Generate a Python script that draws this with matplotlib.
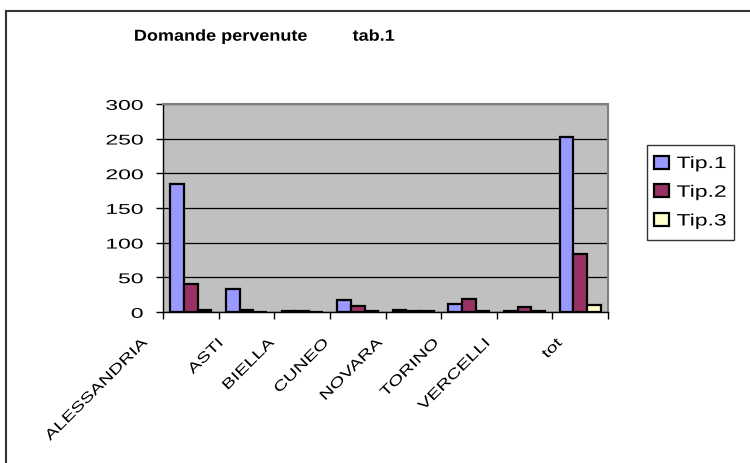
import numpy as np
import matplotlib
matplotlib.use("Agg")
import matplotlib.pyplot as plt
from matplotlib.lines import Line2D
from matplotlib.transforms import Affine2D, ScaledTranslation
from matplotlib.patheffects import AbstractPathEffect

plt.rcParams['font.family'] = ['Liberation Sans', 'DejaVu Sans']

# data
categories = ['ALESSANDRIA', 'ASTI', 'BIELLA', 'CUNEO', 'NOVARA', 'TORINO', 'VERCELLI', 'tot']
tip1 = [184, 33, 1, 17, 3, 11, 2, 253]
tip2 = [40, 3, 1, 9, 1, 19, 7, 83]
tip3 = [3, 0, 0, 2, 1, 1, 1, 10]
series_names = ['Tip.1', 'Tip.2', 'Tip.3']
colors = ['#9999FF', '#993366', '#FFFFCC']
yticks = [0, 50, 100, 150, 200, 250, 300]


class Squeeze(AbstractPathEffect):
    """squash glyphs vertically (about mid cap height) -> wide excel-like text"""

    def __init__(self, sy):
        super().__init__()
        self.sy = sy

    def draw_path(self, renderer, gc, tpath, affine, rgbFace=None):
        mid = 36.0  # text paths are in units of 100 per em
        t = Affine2D().translate(0, -mid).scale(1, self.sy).translate(0, mid) + affine
        renderer.draw_path(gc, tpath, t, rgbFace)


fig = plt.figure(figsize=(7.5, 4.63), dpi=100)
W, H = 750, 463
ax = fig.add_axes([163 / W, 1 - 312 / H, (608 - 163) / W, (312 - 104) / H])
ax.set_facecolor('#C0C0C0')

x = np.arange(len(categories))
width = 0.245
for k, (vals, name, c) in enumerate(zip([tip1, tip2, tip3], series_names, colors)):
    ax.bar(x + (k - 1) * width, vals, width, color=c, edgecolor='black',
           linewidth=1.6, label=name, zorder=3)

ax.set_xlim(-0.5, len(categories) - 0.5)
ax.set_ylim(0, 300)
ax.set_yticks(yticks)
ax.yaxis.grid(True, color='black', linewidth=0.9, zorder=1)
ax.set_axisbelow(True)

for s in ['top', 'right']:
    ax.spines[s].set_color('#808080')
    ax.spines[s].set_linewidth(1.5)
for s in ['left', 'bottom']:
    ax.spines[s].set_color('black')
    ax.spines[s].set_linewidth(1.0)

ax.tick_params(axis='y', direction='out', length=5, width=1, labelsize=16.5, pad=9)
for lab in ax.get_yticklabels():
    lab.set_path_effects([Squeeze(0.62)])

# category ticks at the boundaries, labels hung left of the groups
ax.set_xticks(np.arange(-0.5, len(categories)), minor=True)
ax.tick_params(axis='x', which='minor', direction='out', length=5, width=1)
ax.set_xticks(x)
ax.set_xticklabels(categories, rotation=45, ha='right', va='top',
                   rotation_mode='anchor', fontsize=14.2)
ax.tick_params(axis='x', which='major', length=0, pad=16)

fig.canvas.draw()
for lab in ax.get_xticklabels():
    lab.set_path_effects([Squeeze(0.72)])
    bw = lab.get_window_extent().width
    off = (8.7 + 0.311 * bw + 9) / 100.0
    lab.set_transform(lab.get_transform() + ScaledTranslation(-off, 0, fig.dpi_scale_trans))

title = fig.text(264 / W, 1 - 37 / H, 'Domande pervenute         tab.1', ha='center',
                 va='center', fontsize=13, fontweight='bold')
title.set_path_effects([Squeeze(0.88)])

leg = fig.legend(loc='upper left', bbox_to_anchor=(647 / W, 1 - 145 / H),
                 fontsize=16.5, frameon=True, fancybox=False, edgecolor='black',
                 handlelength=0.62, handleheight=0.5, handletextpad=0.35,
                 labelspacing=0.25, borderpad=0.32, borderaxespad=0)
leg.get_frame().set_linewidth(1.0)
for t in leg.get_texts():
    t.set_path_effects([Squeeze(0.72)])

# outer chart frame
fig.add_artist(Line2D([5.5 / W, 5.5 / W], [0, 1 - 10.5 / H], color='#333333', lw=1.5,
                      transform=fig.transFigure))
fig.add_artist(Line2D([5.5 / W, 1], [1 - 10.5 / H, 1 - 10.5 / H], color='#333333', lw=1.5,
                      transform=fig.transFigure))

fig.savefig('out.png', dpi=100, facecolor='white')
